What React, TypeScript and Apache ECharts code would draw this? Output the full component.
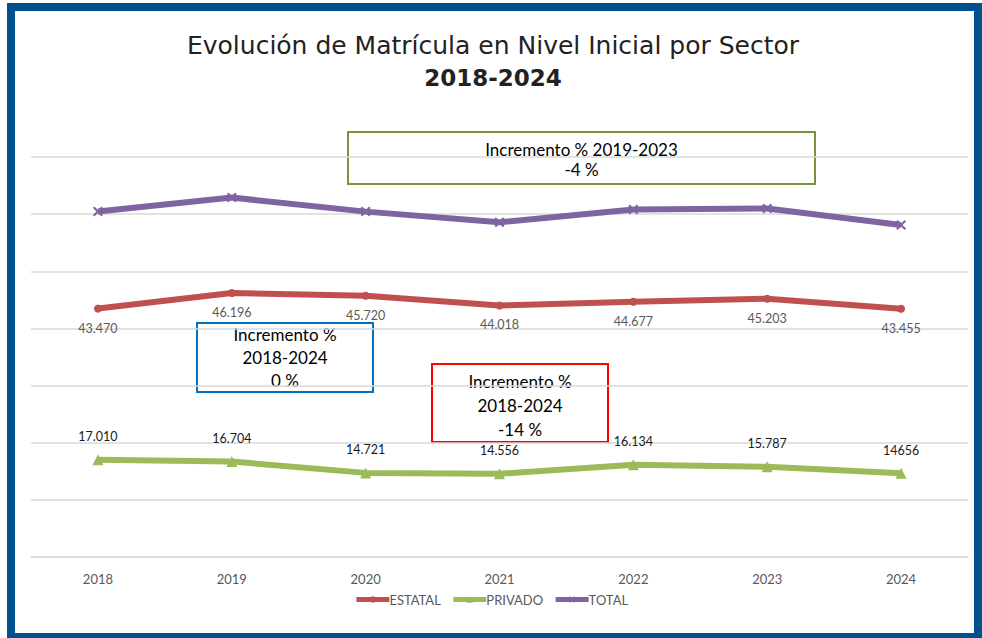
import React, { useEffect, useRef } from "react";
import * as echarts from "echarts";

const years = ["2018", "2019", "2020", "2021", "2022", "2023", "2024"];
const estatal = [43470, 46196, 45720, 44018, 44677, 45203, 43455];
const privado = [17010, 16704, 14721, 14556, 16134, 15787, 14656];
const total = [60480, 62900, 60441, 58574, 60811, 60990, 58111];
const estatalLabels = ["43.470", "46.196", "45.720", "44.018", "44.677", "45.203", "43.455"];
const privadoLabels = ["17.010", "16.704", "14.721", "14.556", "16.134", "15.787", "14656"];

const titleText = "Evolución de Matrícula en Nivel Inicial por Sector";
const subtitleText = "2018-2024";

const xMarker =
  "path://M0,1.5 L1.5,0 L5,3.5 L8.5,0 L10,1.5 L6.5,5 L10,8.5 L8.5,10 L5,6.5 L1.5,10 L0,8.5 L3.5,5 Z";

const BODY_FONT = "Lato, 'Liberation Sans', sans-serif";

function box(x: number, y: number, w: number, h: number, color: string, lines: string[], lineGap: number, firstY: number) {
  const children: any[] = [
    {
      type: "rect",
      shape: { x, y, width: w, height: h },
      style: { fill: "none", stroke: color, lineWidth: 2 },
    },
  ];
  lines.forEach((t, i) => {
    children.push({
      type: "text",
      x: x + w / 2,
      y: firstY + i * lineGap,
      style: {
        text: t,
        fill: "#000",
        font: `17px ${BODY_FONT}`,
        textAlign: "center",
        textVerticalAlign: "middle",
      },
    });
  });
  return { type: "group", children };
}

export default function App() {
  const ref = useRef<HTMLDivElement>(null);
  useEffect(() => {
    if (!ref.current) return;
    const chart = echarts.init(ref.current, undefined, { renderer: "svg" });
    chart.setOption({
      animation: false,
      backgroundColor: "#fff",
      textStyle: { fontFamily: BODY_FONT },
      grid: { left: 31, right: 14, top: 157, bottom: 81 },
      xAxis: {
        type: "category",
        data: years,
        boundaryGap: true,
        axisLine: { show: true, lineStyle: { color: "#D9D9D9", width: 1.5 } },
        axisTick: { show: false },
        axisLabel: { color: "#595959", fontSize: 13, margin: 15, fontFamily: BODY_FONT },
      },
      yAxis: {
        type: "value",
        min: 0,
        max: 70000,
        interval: 10000,
        axisLabel: { show: false },
        axisLine: { show: false },
        axisTick: { show: false },
        splitLine: { lineStyle: { color: "#D9D9D9", width: 1.5 } },
      },
      legend: {
        bottom: 27,
        left: "center",
        itemWidth: 33,
        itemHeight: 8,
        itemGap: 10,
        lineStyle: { width: 5 },
        textStyle: { color: "#595959", fontSize: 13, padding: [0, 0, 0, -5] },
        data: ["ESTATAL", "PRIVADO", "TOTAL"],
      },
      series: [
        {
          name: "ESTATAL",
          type: "line",
          data: estatal,
          symbol: "circle",
          symbolSize: 8,
          color: "#C0504D",
          lineStyle: { width: 6, color: "#C0504D" },
          label: {
            show: true,
            position: "bottom",
            distance: 9,
            color: "#595959",
            fontSize: 12.5,
            fontFamily: BODY_FONT,
            formatter: (p: any) => estatalLabels[p.dataIndex],
          },
        },
        {
          name: "PRIVADO",
          type: "line",
          data: privado,
          symbol: "triangle",
          symbolSize: 11,
          color: "#9BBB59",
          lineStyle: { width: 6, color: "#9BBB59" },
          label: {
            show: true,
            position: "top",
            distance: 11,
            color: "#1a1a1a",
            fontSize: 12.5,
            fontFamily: BODY_FONT,
            formatter: (p: any) => privadoLabels[p.dataIndex],
          },
        },
        {
          name: "TOTAL",
          type: "line",
          data: total,
          symbol: xMarker,
          symbolSize: 10,
          color: "#8064A2",
          lineStyle: { width: 6, color: "#8064A2" },
        },
      ],
      graphic: [
        {
          type: "rect",
          silent: true,
          shape: { x: 11, y: 7, width: 967, height: 630 },
          style: { fill: "none", stroke: "#00528F", lineWidth: 8 },
        },
        {
          type: "text",
          x: 493,
          y: 45,
          style: {
            text: titleText,
            fill: "#222",
            font: "25px 'DejaVu Sans', sans-serif",
            textAlign: "center",
            textVerticalAlign: "middle",
          },
        },
        {
          type: "text",
          x: 493,
          y: 78,
          style: {
            text: subtitleText,
            fill: "#222",
            font: "bold 23px 'DejaVu Sans', sans-serif",
            textAlign: "center",
            textVerticalAlign: "middle",
          },
        },
        box(348, 132, 467, 52, "#77933C", ["Incremento % 2019-2023", "-4 %"], 20, 149),
        box(197, 323, 176, 69, "#0070C0", ["Incremento %", "2018-2024", "0 %"], 23, 334),
        box(432, 364, 176, 78, "#FF0000", ["Incremento %", "2018-2024", "-14 %"], 24, 381),
      ],
    });
    return () => chart.dispose();
  }, []);
  return (
    <div
      ref={ref}
      style={{ position: "fixed", left: 0, top: 0, width: 982, height: 638 }}
    />
  );
}
